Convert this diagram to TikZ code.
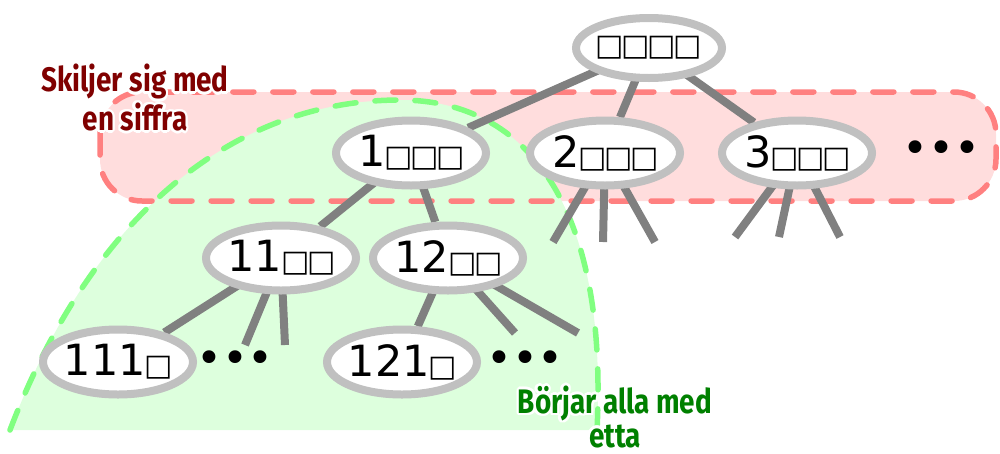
\documentclass[tikz,border=0pt]{standalone}
\usepackage{fontspec}
\setmainfont{DejaVu Sans}
\newfontfamily\labelfont[FakeStretch=0.82]{Fira Sans}
\usepackage[copies]{contour}
\contourlength{2.5pt}
\contournumber{16}
\usetikzlibrary{shapes.geometric}
\pgfdeclarelayer{regions}
\pgfdeclarelayer{edges}
\pgfsetlayers{regions,edges,main}
\definecolor{ring}{HTML}{C0C0C0}
\definecolor{kant}{HTML}{808080}
\definecolor{rodlinje}{HTML}{FF8080}
\definecolor{rodfyll}{HTML}{FFDDDD}
\definecolor{gronlinje}{HTML}{80FF80}
\definecolor{gronfyll}{HTML}{DDFFDD}
\definecolor{morkrod}{HTML}{800000}
\definecolor{morkgron}{HTML}{008000}
\newcommand\sq{\makebox[26pt]{\fontsize{30}{30}\selectfont □}}

\begin{document}
\begin{tikzpicture}[x=1pt,y=-1pt,
	knut/.style={ellipse,draw=ring,line width=8pt,fill=white,inner sep=-4pt,
		minimum width=150pt,minimum height=65pt,font=\fontsize{43}{43}\selectfont},
	gren/.style={draw=kant,line width=8pt},
	prickar/.style={font=\fontsize{44}{44}\selectfont},
	streck/.style={line width=5.5pt,line cap=round,dash pattern=on 21pt off 19pt},
	etikett/.style={font=\labelfont\bfseries\fontsize{34}{30}\selectfont,align=center,inner sep=0pt}]
	\useasboundingbox (0,0) rectangle (1000,453);

	% the tree
	\node[knut,minimum width=146pt,minimum height=60pt] (rot) at (649,48) {\sq\sq\sq\sq};
	\node[knut] (n1) at (411,153) {1\sq\sq\sq};
	\node[knut] (n2) at (605,153) {2\sq\sq\sq};
	\node[knut] (n3) at (797,153) {3\sq\sq\sq};
	\node[knut] (n11) at (281,258) {11\sq\sq};
	\node[knut] (n12) at (448,258) {12\sq\sq};
	\node[knut] (n111) at (118,362) {111\sq};
	\node[knut] (n121) at (402,362) {121\sq};

	\node[prickar] (p3) at (941,152) {•••};
	\node[prickar] (p111) at (235,362) {•••};
	\node[prickar] (p121) at (525,362) {•••};

	% loose branch ends
	\coordinate (a21) at (553,242);
	\coordinate (a22) at (603,242);
	\coordinate (a23) at (655,242);
	\coordinate (a31) at (735,237);
	\coordinate (a32) at (779,237);
	\coordinate (a33) at (840,237);
	\coordinate (a112) at (245,345);
	\coordinate (a113) at (285,345);
	\coordinate (a122) at (515,333);
	\coordinate (a123) at (578,333);

	\begin{pgfonlayer}{edges}
		\foreach \fran/\till in {rot/n1, rot/n2, rot/n3, n1/n11, n1/n12, n11/n111, n12/n121,
			n2/a21, n2/a22, n2/a23, n3/a31, n3/a32, n3/a33, n11/a112, n11/a113, n12/a122, n12/a123}
			\draw[gren] (\fran.center) -- (\till);
	\end{pgfonlayer}

	% the two groups
	\begin{pgfonlayer}{regions}
		\fill[rodfyll,rounded corners=42pt] (100,92) rectangle (996,201);
		\fill[gronfyll] (10,430) .. controls (90,220) and (230,100) .. (400,100)
			.. controls (530,100) and (608,210) .. (597,430) -- cycle;
		\draw[gronlinje,streck] (10,430) .. controls (90,220) and (230,100) .. (400,100)
			.. controls (530,100) and (608,210) .. (597,430);
		\draw[rodlinje,streck,rounded corners=42pt] (100,92) rectangle (996,201);
	\end{pgfonlayer}

	\node[etikett,text=morkrod] (skiljer) at (135,99)
		{\contour{white}{Skiljer sig med}\\\contour{white}{en siffra}};
	\node[etikett,text=morkgron] (borjar) at (615,418)
		{\contour{white}{Börjar alla med}\\\contour{white}{etta}};
\end{tikzpicture}
\end{document}
